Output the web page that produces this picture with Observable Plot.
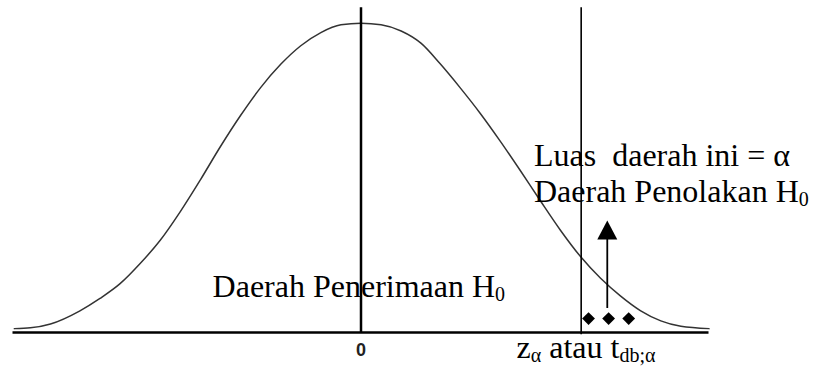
<!DOCTYPE html>
<html>
<head>
<meta charset="utf-8">
<script src="https://cdn.jsdelivr.net/npm/d3@7"></script>
<script src="https://cdn.jsdelivr.net/npm/@observablehq/plot@0.6"></script>
<style>
  html, body { margin: 0; padding: 0; background: #fff; }
  svg { display: block; }
  svg text { white-space: pre; }
</style>
</head>
<body>
<script>
// Normal curve (x in z units, y as density)
const curveZ = [-2.59, -2.47, -2.32, -2.10, -1.95, -1.80, -1.65, -1.50, -1.35, -1.20, -1.05, -0.90, -0.75, -0.60, -0.45, -0.30, -0.15, 0,
                0.15, 0.30, 0.45, 0.59, 0.74, 0.89, 1.04, 1.19, 1.34, 1.49, 1.64, 1.79, 1.94, 2.09, 2.24, 2.39, 2.60];
const curveDensity = [0.005, 0.006, 0.011, 0.028, 0.044, 0.063, 0.089, 0.119, 0.156, 0.197, 0.240, 0.280, 0.316, 0.346, 0.370, 0.387, 0.397, 0.399,
                      0.397, 0.389, 0.373, 0.347, 0.316, 0.283, 0.247, 0.209, 0.170, 0.132, 0.098, 0.070, 0.047, 0.028, 0.015, 0.008, 0.005];

const centerValue = 0;
const criticalValue = 1.645;
const rejectionMarkersZ = [1.70, 1.85, 2.00];
const arrowZ = 1.84;

const tickLabels = ["0"];
const labelAcceptance = "Daerah Penerimaan H_{0}";
const labelArea = "Luas  daerah ini = α";
const labelRejection = "Daerah Penolakan H_{0}";
const labelCritical = "z_{α} atau t_{db;α}";

const curve = curveZ.map((z, i) => ({z, d: curveDensity[i]}));

const diamond = {draw(ctx) { const r = 6.4; ctx.moveTo(0, -r); ctx.lineTo(r, 0); ctx.lineTo(0, r); ctx.lineTo(-r, 0); ctx.closePath(); }};
const arrowHead = {draw(ctx) { ctx.moveTo(0, -19); ctx.lineTo(10, 0); ctx.lineTo(-10, 0); ctx.closePath(); }};

const serif = "'Liberation Serif', 'Times New Roman', serif";

const chart = Plot.plot({
  width: 813,
  height: 367,
  margin: 0,
  x: {domain: [-2.6, 2.6], range: [12.5, 708.5], axis: null},
  y: {domain: [0, 0.4], range: [332, 22], axis: null},
  marks: [
    Plot.ruleY([0], {x1: -2.6, x2: 2.6, stroke: "black", strokeWidth: 2.6}),
    Plot.line(curve, {x: "z", y: "d", curve: "monotone-x", stroke: "#333", strokeWidth: 1.5}),
    Plot.ruleX([centerValue], {y1: 0, y2: 0.419, stroke: "black", strokeWidth: 2.5}),
    Plot.ruleX([criticalValue], {y1: -0.003, y2: 0.419, stroke: "black", strokeWidth: 1.6}),
    Plot.ruleX([arrowZ], {y1: 0.031, y2: 0.121, stroke: "black", strokeWidth: 1.8}),
    Plot.dot([arrowZ], {x: d => d, y: 0.12, symbol: arrowHead, fill: "black", stroke: "none"}),
    Plot.dot(rejectionMarkersZ, {x: d => d, y: 0.018, symbol: diamond, fill: "black", stroke: "none"}),
    Plot.text(tickLabels, {x: centerValue, y: -0.030, text: d => d, textAnchor: "middle", lineAnchor: "bottom",
      fontSize: 18, fontWeight: "bold", fontFamily: "'Liberation Sans', Arial, sans-serif", fill: "#222"}),
    Plot.text([labelAcceptance], {x: -1.109, y: 0.0455, text: d => d, textAnchor: "start", lineAnchor: "bottom", fontSize: 32, fontFamily: serif, fill: "black"}),
    Plot.text([labelArea], {x: 1.2925, y: 0.2146, text: d => d, textAnchor: "start", lineAnchor: "bottom", fontSize: 32, fontFamily: serif, fill: "black"}),
    Plot.text([labelRejection], {x: 1.2925, y: 0.168, text: d => d, textAnchor: "start", lineAnchor: "bottom", fontSize: 32, fontFamily: serif, fill: "black"}),
    Plot.text([labelCritical], {x: 1.162, y: -0.0335, text: d => d, textAnchor: "start", lineAnchor: "bottom", fontSize: 32, fontFamily: serif, fill: "black"})
  ]
});

// turn _{...} into real subscript tspans
const NS = "http://www.w3.org/2000/svg";
chart.querySelectorAll("text").forEach(t => {
  const s = t.textContent;
  if (!s.includes("_{")) return;
  t.textContent = "";
  const parts = s.split(/(_\{[^}]*\})/).filter(p => p);
  let down = false;
  for (const p of parts) {
    const ts = document.createElementNS(NS, "tspan");
    if (p.startsWith("_{")) {
      ts.textContent = p.slice(2, -1);
      ts.setAttribute("font-size", "20");
      ts.setAttribute("dy", "4");
      down = true;
    } else {
      ts.textContent = p;
      if (down) { ts.setAttribute("dy", "-4"); down = false; }
    }
    t.appendChild(ts);
  }
});

document.body.appendChild(chart);
</script>
</body>
</html>
